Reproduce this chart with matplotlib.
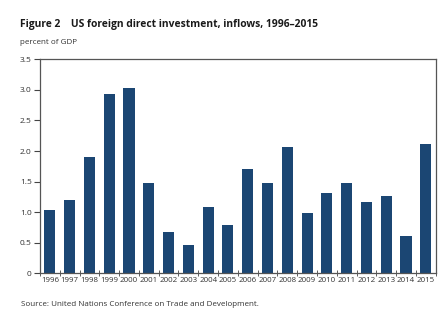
import numpy as np
import matplotlib
matplotlib.use("Agg")
from matplotlib import pyplot as plt

years = [str(y) for y in range(1996, 2016)]
inflows = [1.04, 1.20, 1.91, 2.93, 3.03, 1.48, 0.68, 0.46, 1.09, 0.79,
           1.71, 1.48, 2.07, 0.99, 1.31, 1.47, 1.16, 1.27, 0.61, 2.12]
y_ticks = [0, 0.5, 1.0, 1.5, 2.0, 2.5, 3.0, 3.5]
y_labels = ["0", "0.5", "1.0", "1.5", "2.0", "2.5", "3.0", "3.5"]

plt.rcParams["font.family"] = ["Open Sans", "DejaVu Sans"]

fig = plt.figure(figsize=(4.48, 3.36), dpi=100)
ax = fig.add_axes([0.0893, 0.1866, 0.8832, 0.6369])

x = np.arange(len(years))
ax.bar(x, inflows, width=0.56, color="#1b4673")

ax.set_xlim(-0.5, len(years) - 0.5)
ax.set_ylim(0, 3.5)
ax.set_yticks(y_ticks)
ax.set_yticklabels(y_labels, fontsize=6, color="#333333")
ax.set_xticks(x)
ax.set_xticklabels(years, fontsize=5.7, color="#333333")
ax.tick_params(axis="x", length=0, pad=3)
ax.set_xticks(np.arange(-0.5, len(years)), minor=True)
ax.tick_params(axis="x", which="minor", length=4, direction="inout", color="#444444")
ax.tick_params(axis="y", length=4, direction="out", color="#444444", pad=2)

for s in ax.spines.values():
    s.set_color("#555555")
    s.set_linewidth(0.9)

fig.text(20 / 448, 1 - 24 / 336, "Figure 2    US foreign direct investment, inflows, 1996\u20132015",
         fontsize=7.4, fontweight="bold", color="#1a1a1a", va="center")
fig.text(20 / 448, 1 - 43 / 336, "percent of GDP", fontsize=5.8, color="#333333", va="center")
fig.text(21 / 448, 1 - 304 / 336, "Source: United Nations Conference on Trade and Development.",
         fontsize=5.8, color="#333333", va="center")

fig.savefig("out.png", dpi=100)
